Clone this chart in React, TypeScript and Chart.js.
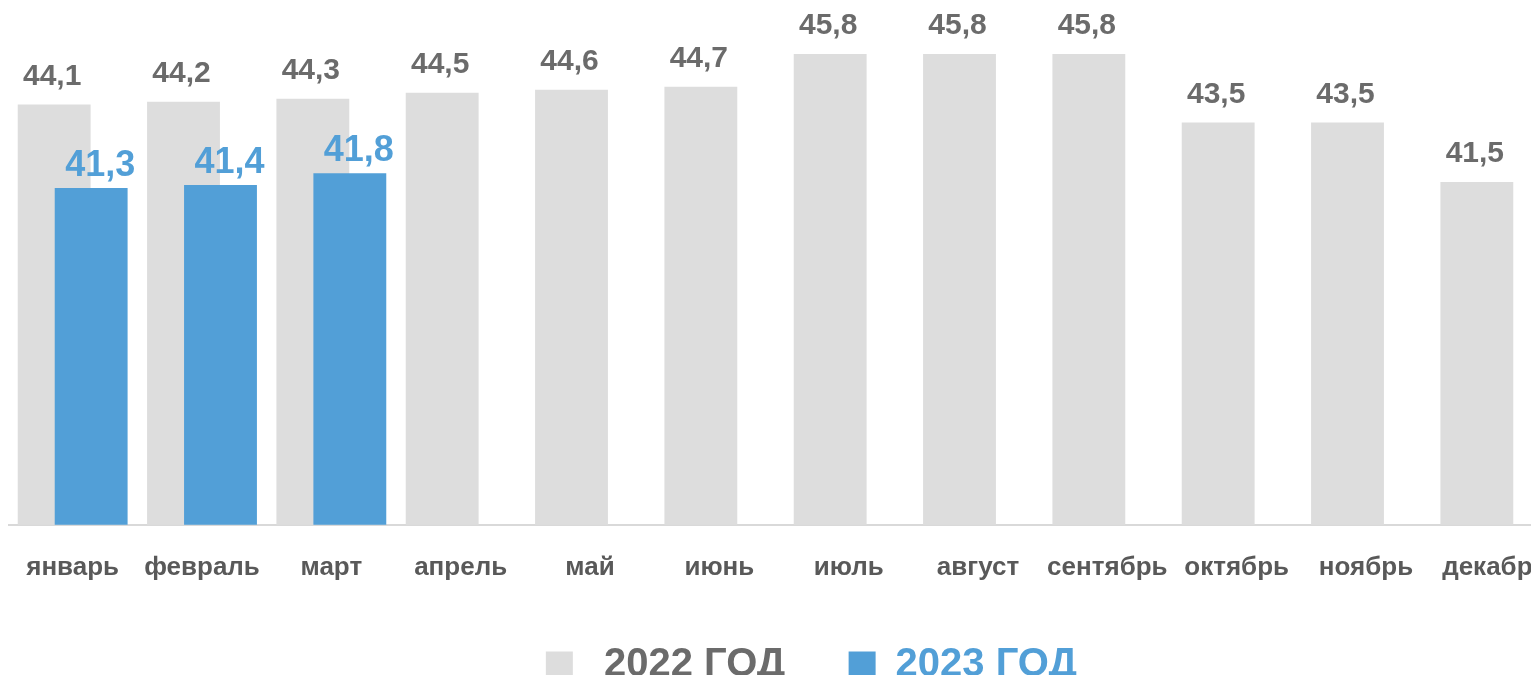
import React, { useEffect, useRef } from "react";
import { Chart, registerables } from "chart.js";

Chart.register(...registerables);

const months = ["январь", "февраль", "март", "апрель", "май", "июнь", "июль", "август", "сентябрь", "октябрь", "ноябрь", "декабрь"];
const values2022 = [44.1, 44.2, 44.3, 44.5, 44.6, 44.7, 45.8, 45.8, 45.8, 43.5, 43.5, 41.5];
const values2023: (number | null)[] = [41.3, 41.4, 41.8, null, null, null, null, null, null, null, null, null];
const seriesNames = ["2022 ГОД", "2023 ГОД"];

const FONT = "'Liberation Sans', Arial, sans-serif";
const GRAY_BAR = "#DDDDDD";
const BLUE_BAR = "#529FD7";
const GRAY_TEXT = "#6B6B6B";
const TICK_TEXT = "#595959";

const fmt = (v: number) => v.toFixed(1).replace(".", ",");

let drawingLate = false;
const overlayPlugin = {
  id: "overlayBlue",
  beforeDatasetDraw(chart: any, args: any) {
    if (args.index === 1 && !drawingLate) return false;
    return true;
  },
  afterDatasetsDraw(chart: any) {
    const meta = chart.getDatasetMeta(1);
    const { ctx, chartArea } = chart;
    ctx.save();
    ctx.beginPath();
    ctx.rect(chartArea.left, chartArea.top, chartArea.right - chartArea.left, chartArea.bottom - chartArea.top);
    ctx.clip();
    drawingLate = true;
    meta.controller.draw();
    drawingLate = false;
    ctx.restore();
  },
};

const labelPlugin = {
  id: "valueLabels",
  afterDatasetsDraw(chart: any) {
    const ctx = chart.ctx;
    ctx.save();
    ctx.textAlign = "center";
    ctx.textBaseline = "middle";
    const m0 = chart.getDatasetMeta(0);
    ctx.font = `bold 30px ${FONT}`;
    ctx.fillStyle = GRAY_TEXT;
    m0.data.forEach((el: any, i: number) => {
      const v = values2022[i];
      if (v == null) return;
      ctx.fillText(fmt(v), el.x - 2, el.y - 28);
    });
    const m1 = chart.getDatasetMeta(1);
    ctx.font = `bold 36px ${FONT}`;
    ctx.fillStyle = BLUE_BAR;
    m1.data.forEach((el: any, i: number) => {
      const v = values2023[i];
      if (v == null) return;
      ctx.fillText(fmt(v), el.x + 9, el.y - 22);
    });
    ctx.restore();
  },
};

export default function App() {
  const ref = useRef<HTMLCanvasElement | null>(null);
  useEffect(() => {
    if (!ref.current) return;
    const chart = new Chart(ref.current, {
      type: "bar",
      data: {
        labels: months,
        datasets: [
          {
            label: seriesNames[0],
            data: values2022,
            backgroundColor: GRAY_BAR,
            categoryPercentage: 0.572,
            barPercentage: 1.97,
          },
          {
            label: seriesNames[1],
            data: values2023,
            backgroundColor: BLUE_BAR,
            categoryPercentage: 0.572,
            barPercentage: 1.97,
          },
        ],
      },
      options: {
        animation: false,
        responsive: true,
        maintainAspectRatio: false,
        layout: { padding: { top: 40, left: 0, right: 0, bottom: 0 } },
        scales: {
          x: {
            grid: { display: false, drawTicks: true, tickLength: 27 },
            border: { display: true, color: "#D9D9D9", width: 2 },
            ticks: {
              color: TICK_TEXT,
              font: { family: FONT, size: 26, weight: "bold" },
              padding: 0,
              maxRotation: 0,
              autoSkip: false,
            },
            afterFit: (scale: any) => {
              scale.height += 32;
            },
          },
          y: {
            display: false,
            min: 30,
            max: 46,
          },
        },
        plugins: {
          tooltip: { enabled: false },
          legend: {
            position: "bottom",
            labels: {
              boxWidth: 27,
              boxHeight: 27,
              padding: 30,
              font: { family: FONT, size: 40, weight: "bold" },
              generateLabels: () => {
                const colors = [GRAY_TEXT, BLUE_BAR];
                const fills = [GRAY_BAR, BLUE_BAR];
                const items: any[] = [
                  {
                    text: "",
                    fillStyle: "rgba(0,0,0,0)",
                    strokeStyle: "rgba(0,0,0,0)",
                    lineWidth: 0,
                    fontColor: "rgba(0,0,0,0)",
                    hidden: false,
                  },
                ];
                seriesNames.forEach((n, i) => {
                  items.push({
                    text: i === 0 ? " " + n + "   " : n + "  ",
                    fillStyle: fills[i],
                    strokeStyle: fills[i],
                    lineWidth: 0,
                    fontColor: colors[i],
                    hidden: false,
                    datasetIndex: i,
                  });
                });
                return items;
              },
            },
          },
        },
      },
      plugins: [overlayPlugin, labelPlugin],
    });
    return () => chart.destroy();
  }, []);

  return (
    <div style={{ width: 1531, height: 675, overflow: "hidden", marginBottom: -8 }}>
      <div style={{ width: 1552, height: 687, position: "relative" }}>
        <canvas ref={ref} />
      </div>
    </div>
  );
}
